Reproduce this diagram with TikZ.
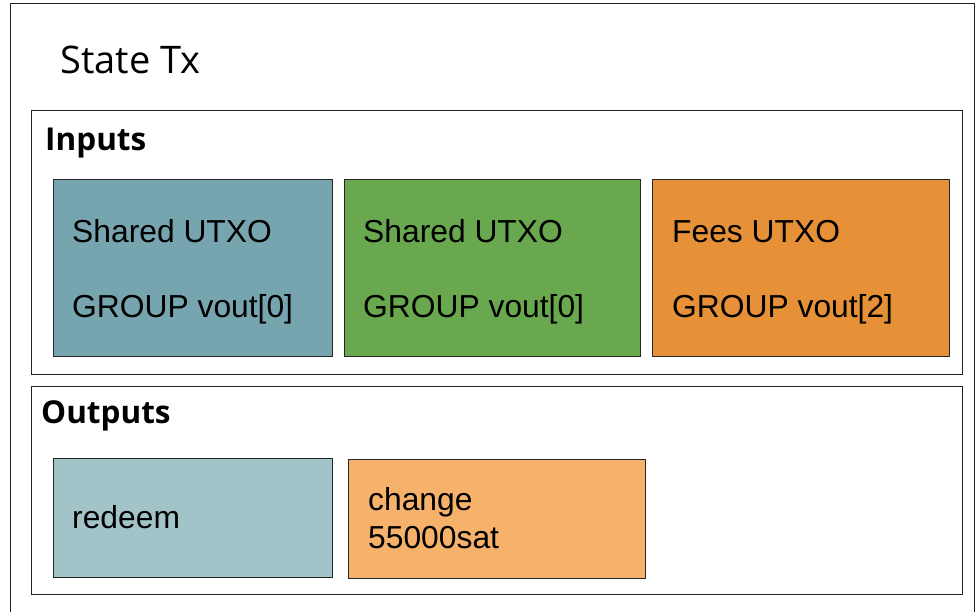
\documentclass[tikz,border=0pt]{standalone}
\usepackage{fontspec}
\setmainfont{Liberation Sans}
\newfontfamily\headfont{Open Sans}
\definecolor{tealA}{HTML}{76A5AF}
\definecolor{greenA}{HTML}{6AA84F}
\definecolor{orangeA}{HTML}{E69138}
\definecolor{tealB}{HTML}{A2C4C9}
\definecolor{orangeB}{HTML}{F6B26B}
\definecolor{edge}{HTML}{222222}
\tikzset{
  frame/.style={draw=edge, line width=1.3pt, rectangle, inner sep=0pt, anchor=north west},
  utxo/.style={draw=black!85, line width=1.3pt, rectangle, inner sep=0pt, anchor=north west},
  boxtext/.style={anchor=base west, inner sep=0pt, font=\fontsize{31.8}{36}\selectfont, text=black},
  sectiontitle/.style={anchor=base west, inner sep=0pt, font=\headfont\bfseries\fontsize{31.5}{36}\selectfont},
}
\begin{document}
\begin{tikzpicture}[x=1pt,y=-1pt]
  \useasboundingbox (0,0) rectangle (978,611);
  \clip (0,0) rectangle (978,611);
  \fill[white] (0,0) rectangle (978,611);

  % transaction frame, running past the lower edge
  \node[frame, minimum width=964pt, minimum height=640pt] (tx) at (10,3) {};
  \node[anchor=base west, inner sep=0pt, font=\headfont\fontsize{38}{44}\selectfont] (txtitle) at (60,73) {State Tx};

  % inputs section
  \node[frame, line width=1.1pt, minimum width=931pt, minimum height=264pt] (inputs) at (31,110) {};
  \node[sectiontitle] (intitle) at (45,150) {Inputs};

  \node[utxo, fill=tealA, minimum width=279pt, minimum height=177pt] (in1) at (53,179) {};
  \node[utxo, fill=greenA, minimum width=296pt, minimum height=177pt] (in2) at (344,179) {};
  \node[utxo, fill=orangeA, minimum width=297pt, minimum height=177pt] (in3) at (652,179) {};

  \node[boxtext] (in1a) at (72,242) {Shared UTXO};
  \node[boxtext] (in1b) at (72,317) {GROUP vout[0]};
  \node[boxtext] (in2a) at (363,242) {Shared UTXO};
  \node[boxtext] (in2b) at (363,317) {GROUP vout[0]};
  \node[boxtext] (in3a) at (672,242) {Fees UTXO};
  \node[boxtext] (in3b) at (672,317) {GROUP vout[2]};

  % outputs section
  \node[frame, line width=1.1pt, minimum width=931pt, minimum height=208pt] (outputs) at (31,386) {};
  \node[sectiontitle] (outtitle) at (41,423) {Outputs};

  \node[utxo, fill=tealB, minimum width=279pt, minimum height=119pt] (out1) at (53,458) {};
  \node[utxo, fill=orangeB, minimum width=297pt, minimum height=119pt] (out2) at (348,459) {};

  \node[boxtext] (out1a) at (72,528) {redeem};
  \node[boxtext] (out2a) at (368,510) {change};
  \node[boxtext] (out2b) at (368,548) {55000sat};
\end{tikzpicture}
\end{document}
